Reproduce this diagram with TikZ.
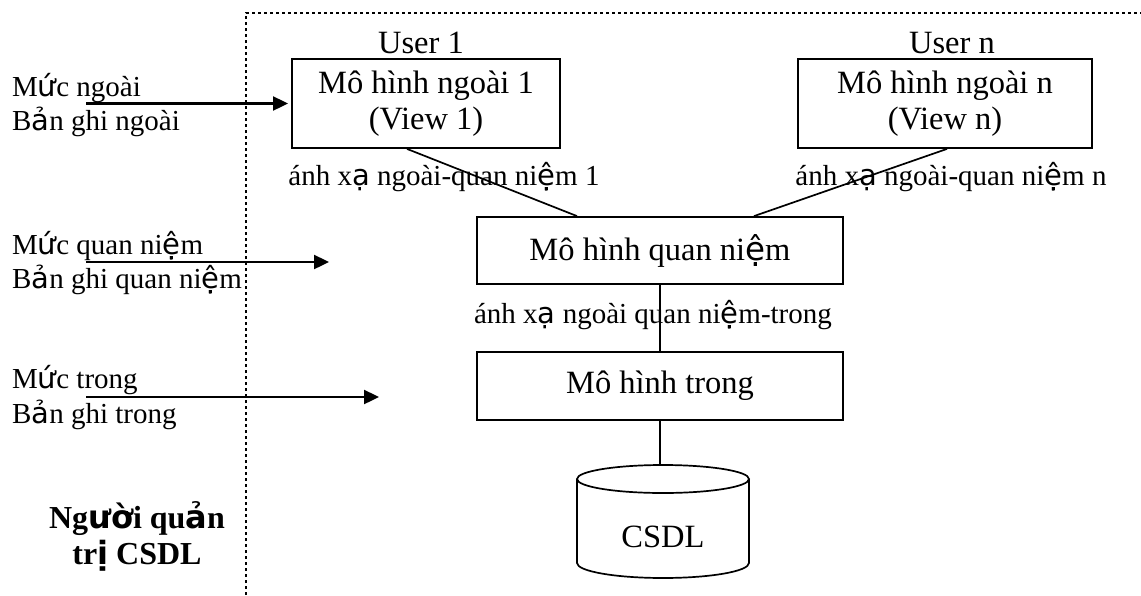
\documentclass[tikz,border=0pt]{standalone}
\usepackage{fontspec}
\setmainfont{Liberation Serif}
\newfontfamily\dv{DejaVu Sans}
\usetikzlibrary{arrows.meta}
\begin{document}
\begin{tikzpicture}[x=1pt,y=-1pt,
  every node/.style={font=\fontsize{29}{34}\selectfont, inner sep=0pt},
  big/.style={font=\fontsize{32.5}{36.5}\selectfont},
  box/.style={draw, line width=1.8pt, align=center, big},
  conn/.style={line width=1.7pt},
  levelarrow/.style={line width=2.4pt, -{Triangle[length=15pt,width=14pt]}},
  frame/.style={line width=1.8pt, dash pattern=on 3pt off 3pt},
  lbl/.style={anchor=base west},
  ctr/.style={anchor=base}]
\useasboundingbox (0,0) rectangle (1141,595);
% dotted frame
\coordinate (fb) at (246,595);
\coordinate (fc) at (246,13);
\coordinate (fr) at (1141,13);
\draw[frame] (fb) -- (fc) -- (fr);

% boxes
\node[box, minimum width=268pt, minimum height=89pt] (m1) at (426,103.5) {Mô hình ngoài 1\\(View 1)};
\node[box, minimum width=294pt, minimum height=89pt] (mn) at (945,103.5) {Mô hình ngoài n\\(View n)};
\node[box, minimum width=366pt, minimum height=67pt] (qn) at (660,250.5) {Mô hình quan ni{\dv ệ}m};
\node[box, minimum width=366pt, minimum height=68pt] (tr) at (660,386) {Mô hình trong};

% user labels
\node[ctr, big] (u1) at (421,53) {User 1};
\node[ctr, big] (un) at (952,53) {User n};

% mapping labels
\node[ctr] (ax1) at (444,185) {ánh x{\dv ạ} ngoài-quan ni{\dv ệ}m 1};
\node[ctr] (axn) at (951,185) {ánh x{\dv ạ} ngoài-quan ni{\dv ệ}m n};
\node[ctr] (axt) at (653,323) {ánh x{\dv ạ} ngoài quan ni{\dv ệ}m-trong};

% connectors
\draw[conn] ([xshift=-19pt]m1.south) -- ([xshift=-83pt]qn.north);
\draw[conn] ([xshift=2pt]mn.south) -- ([xshift=94pt]qn.north);
\draw[conn] (qn.south) -- (tr.north);

% cylinder
\coordinate (cyltop) at (661,465);
\draw[conn] (tr.south) -- (tr.south |- cyltop);
\draw[conn] (663,479) ellipse [x radius=86pt, y radius=14pt];
\draw[conn] (577,479) -- (577,563) arc[start angle=180, end angle=360, x radius=86pt, y radius=15pt] -- (749,479);
\node[ctr, big] (db) at (663,547) {CSDL};

% left labels
\node[lbl] (l1a) at (12,96) {M{\dv ứ}c ngoài};
\node[lbl] (l1b) at (12,130) {B{\dv ả}n ghi ngoài};
\node[lbl] (l2a) at (12,254) {M{\dv ứ}c quan ni{\dv ệ}m};
\node[lbl] (l2b) at (12,288) {B{\dv ả}n ghi quan ni{\dv ệ}m};
\node[lbl] (l3a) at (12,388) {M{\dv ứ}c trong};
\node[lbl] (l3b) at (12,423) {B{\dv ả}n ghi trong};
\node[ctr, font=\fontsize{32}{36}\selectfont\bfseries] (adm1) at (137,528) {Ng{\dv ườ}i qu{\dv ả}n};
\node[ctr, font=\fontsize{32}{36}\selectfont\bfseries] (adm2) at (137,564) {tr{\dv ị} CSDL};

% level arrows
\coordinate (a1s) at (86,103.5); \coordinate (a1e) at (288,103.5);
\coordinate (a2s) at (86,262); \coordinate (a2e) at (329,262);
\coordinate (a3s) at (86,397); \coordinate (a3e) at (379,397);
\draw[levelarrow] (a1s) -- (a1e);
\draw[levelarrow] (a2s) -- (a2e);
\draw[levelarrow] (a3s) -- (a3e);
\end{tikzpicture}
\end{document}
